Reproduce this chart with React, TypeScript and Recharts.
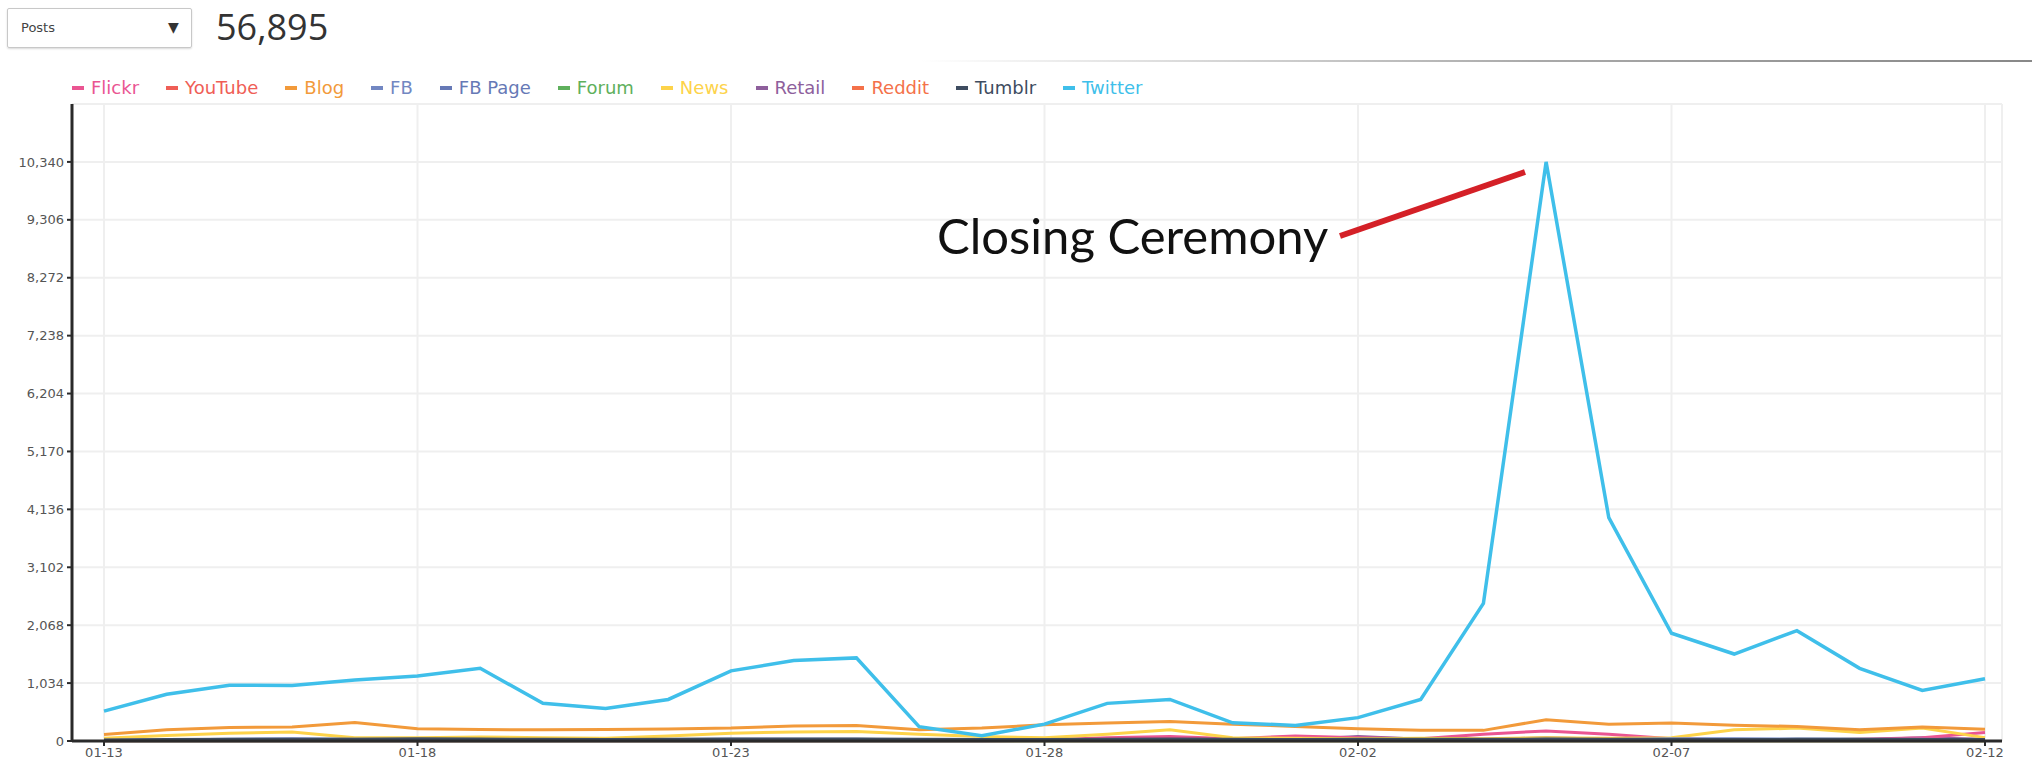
import React from "react"
import { LineChart, Line, XAxis, YAxis, CartesianGrid } from "recharts"

const dates = [
  "01-13", "01-14", "01-15", "01-16", "01-17", "01-18", "01-19", "01-20", "01-21", "01-22",
  "01-23", "01-24", "01-25", "01-26", "01-27", "01-28", "01-29", "01-30", "01-31", "02-01",
  "02-02", "02-03", "02-04", "02-05", "02-06", "02-07", "02-08", "02-09", "02-10", "02-11",
  "02-12",
]

const yTicks = [0, 1034, 2068, 3102, 4136, 5170, 6204, 7238, 8272, 9306, 10340]

const twitter = [533, 834, 997, 990, 1090, 1159, 1298, 672, 580, 742, 1252, 1437, 1484, 255, 93, 301, 672, 742, 325, 278, 417, 742, 2457, 10340, 3987, 1924, 1553, 1970, 1298, 904, 1113]
const blog = [116, 200, 240, 250, 330, 220, 205, 200, 205, 215, 230, 270, 275, 200, 230, 290, 320, 350, 300, 260, 220, 190, 190, 380, 300, 320, 280, 260, 200, 250, 210]
const news = [50, 100, 140, 160, 60, 60, 70, 60, 50, 90, 140, 160, 170, 120, 80, 60, 120, 200, 60, 50, 40, 50, 40, 60, 50, 60, 200, 230, 150, 230, 60]
const flickr = [10, 10, 10, 10, 10, 10, 10, 10, 10, 10, 10, 10, 10, 10, 10, 20, 60, 80, 40, 90, 60, 40, 120, 180, 120, 40, 20, 20, 30, 60, 150]
const retail = [5, 5, 5, 5, 5, 5, 5, 5, 5, 5, 5, 5, 5, 5, 5, 10, 30, 50, 20, 20, 80, 30, 20, 60, 30, 10, 10, 20, 20, 60, 30]
const tumblr = [20, 25, 30, 30, 30, 40, 35, 30, 25, 30, 35, 35, 35, 30, 25, 25, 30, 35, 30, 25, 30, 30, 30, 35, 30, 25, 25, 30, 30, 25, 25]
const fb = [15, 20, 30, 40, 30, 25, 20, 20, 20, 25, 30, 30, 30, 20, 15, 20, 25, 25, 20, 20, 20, 20, 25, 30, 25, 40, 40, 35, 30, 30, 20]
const fbPage = [8, 10, 10, 12, 10, 10, 10, 8, 8, 10, 10, 12, 12, 10, 8, 8, 10, 10, 8, 8, 10, 10, 10, 12, 10, 10, 10, 10, 10, 10, 8]
const forum = [5, 5, 5, 5, 5, 5, 5, 5, 5, 5, 5, 5, 5, 5, 5, 5, 5, 5, 5, 5, 5, 5, 5, 5, 5, 5, 5, 5, 5, 5, 5]
const youtube = [10, 12, 12, 10, 10, 10, 12, 10, 10, 10, 12, 12, 12, 10, 10, 10, 12, 12, 10, 10, 10, 10, 12, 15, 12, 10, 10, 10, 10, 12, 20]
const reddit = [3, 3, 3, 3, 3, 3, 3, 3, 3, 3, 3, 3, 3, 3, 3, 3, 3, 3, 3, 3, 3, 3, 3, 3, 3, 3, 3, 3, 3, 3, 3]

const series = [
  { key: "Flickr", color: "#ea5592", values: flickr },
  { key: "YouTube", color: "#ef5e56", values: youtube },
  { key: "Blog", color: "#f29a3a", values: blog },
  { key: "FB", color: "#7287c2", values: fb },
  { key: "FB Page", color: "#6679b6", values: fbPage },
  { key: "Forum", color: "#5fb05c", values: forum },
  { key: "News", color: "#fdd34a", values: news },
  { key: "Retail", color: "#8e5f9c", values: retail },
  { key: "Reddit", color: "#f4714a", values: reddit },
  { key: "Tumblr", color: "#3e4c60", values: tumblr },
  { key: "Twitter", color: "#3fbfea", values: twitter },
]

// drawn bottom to top
const drawOrder = ["Reddit", "YouTube", "Forum", "FB Page", "Retail", "Flickr", "News", "Blog", "FB", "Tumblr", "Twitter"]

const data = dates.map((d, i) => {
  const row: Record<string, string | number> = { date: d }
  series.forEach((s) => {
    row[s.key] = s.values[i]
  })
  return row
})

const fmt = (v: number) => v.toLocaleString("en-US")

export default function App() {
  return (
    <div style={{ position: "absolute", left: 0, top: 0, width: 2032, height: 771, background: "#fff", fontFamily: "DejaVu Sans" }}>
      {/* header */}
      <div
        style={{
          position: "absolute", left: 7, top: 8, width: 185, height: 40,
          border: "1px solid #c8c8c8", borderRadius: 2, boxShadow: "0 1px 2px rgba(0,0,0,0.15)",
          boxSizing: "border-box",
        }}
      >
        <span style={{ position: "absolute", left: 13, top: 11, fontSize: 13, color: "#444" }}>Posts</span>
        <span style={{ position: "absolute", left: 160, top: 10, fontSize: 14, color: "#333" }}>▼</span>
      </div>
      <div style={{ position: "absolute", left: 216, top: 2, fontSize: 36, color: "#333", fontFamily: "Open Sans" }}>56,895</div>
      <div
        style={{
          position: "absolute", left: 920, top: 60, width: 1112, height: 2,
          background: "linear-gradient(to right, rgba(150,150,150,0), #aaa 55%, #888)",
        }}
      />

      {/* legend */}
      <div style={{ position: "absolute", left: 72, top: 77, display: "flex", fontSize: 18, fontFamily: "DejaVu Sans" }}>
        {series.map((s) => (
          <div key={s.key} style={{ display: "flex", alignItems: "center", marginRight: 27, color: s.color }}>
            <span style={{ display: "inline-block", width: 12, height: 4, background: s.color, marginRight: 7 }} />
            {s.key}
          </div>
        ))}
      </div>

      <div style={{ position: "absolute", left: 0, top: 0 }}>
        <LineChart width={2032} height={771} data={data} margin={{ top: 104, right: 30, bottom: 0, left: 0 }}>
          <CartesianGrid stroke="#efefef" strokeWidth={2} />
          <XAxis
            dataKey="date"
            interval={4}
            padding={{ left: 32, right: 17 }}
            height={30}
            axisLine={{ stroke: "#2a2a2a", strokeWidth: 3 }}
            tickLine={{ stroke: "#2a2a2a", strokeWidth: 2 }}
            tickSize={5}
            tick={{ fill: "#555", fontSize: 13, fontFamily: "DejaVu Sans" }}
          />
          <YAxis
            width={72}
            domain={[0, 11374]}
            ticks={yTicks}
            tickFormatter={fmt}
            axisLine={{ stroke: "#2a2a2a", strokeWidth: 3 }}
            tickLine={{ stroke: "#2a2a2a", strokeWidth: 2 }}
            tickSize={5}
            tickMargin={3}
            tick={{ fill: "#555", fontSize: 13, fontFamily: "DejaVu Sans" }}
          />
          {drawOrder.map((k) => {
            const s = series.find((x) => x.key === k)!
            return (
              <Line
                key={k}
                type="linear"
                dataKey={k}
                stroke={s.color}
                strokeWidth={k === "Twitter" ? 3.5 : 3}
                dot={false}
                isAnimationActive={false}
              />
            )
          })}
        </LineChart>
      </div>

      {/* annotation */}
      <svg style={{ position: "absolute", left: 0, top: 0 }} width={2032} height={771}>
        <line x1={1340} y1={236} x2={1525} y2={172} stroke="#d42027" strokeWidth={6} />
        <text x={937} y={254} fontSize={49} fontFamily="Lato" fill="#111">Closing Ceremony</text>
      </svg>
    </div>
  )
}
